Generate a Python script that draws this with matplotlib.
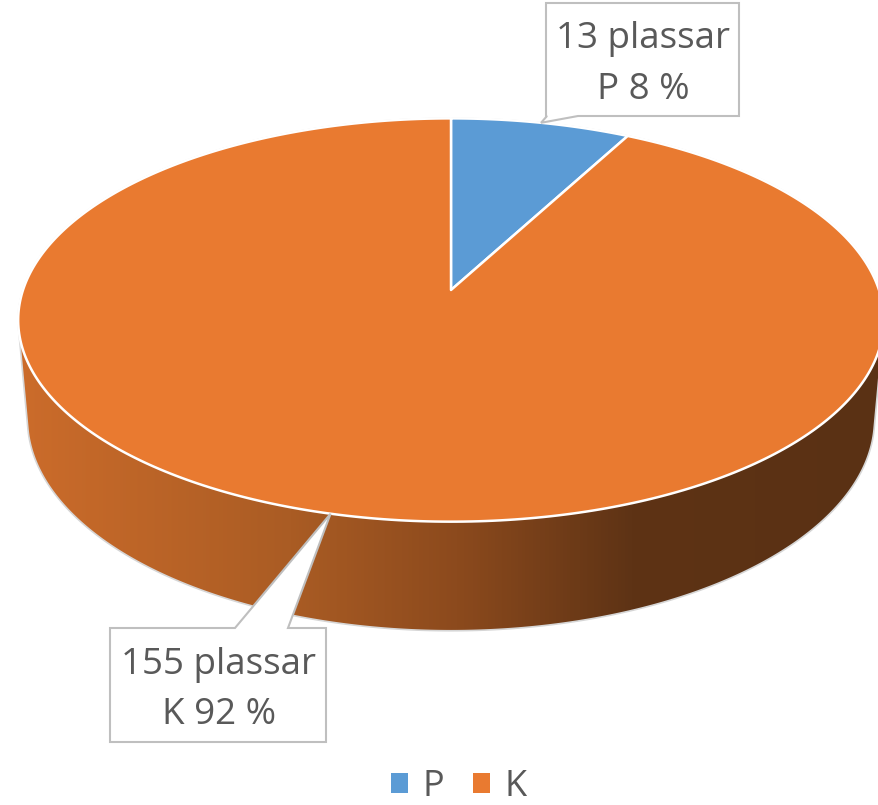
import numpy as np
import matplotlib.pyplot as plt
from matplotlib.colors import LinearSegmentedColormap
from matplotlib.patches import Polygon, Patch

plt.rcParams['font.family'] = ['Open Sans', 'DejaVu Sans']

labels = ['P', 'K']
counts = [13, 155]
colors = ['#5B9BD5', '#E97A30']
unit = 'plassar'

W, H = 879, 805
fig = plt.figure(figsize=(8.79, 8.05), dpi=100)
ax = fig.add_axes([0, 0, 1, 1])
ax.set_xlim(0, W)
ax.set_ylim(H, 0)
ax.axis('off')

# 3d pie seen from above with a bit of perspective
cx, cy, Sx, Sy = 451, 290, 428, 420
tilt = np.radians(28)
D = 5.93
h = 0.27


def proj(theta, z=0.0):
    x3 = np.sin(theta)
    y3 = np.cos(theta)
    v = -y3*np.sin(tilt) + z*np.cos(tilt)
    dist = D - y3*np.cos(tilt) - z*np.sin(tilt)
    return cx + Sx*x3*D/dist, cy - Sy*v*D/dist


def hull(pts):
    pts = sorted(set(pts))
    def half(seq):
        out = []
        for p in seq:
            while len(out) >= 2:
                (x1, y1), (x2, y2) = out[-2], out[-1]
                if (x2-x1)*(p[1]-y1) - (y2-y1)*(p[0]-x1) <= 0:
                    out.pop()
                else:
                    break
            out.append(p)
        return out
    lo = half(pts)
    hi = half(pts[::-1])
    return lo[:-1] + hi[:-1]


th = np.linspace(0, 2*np.pi, 721)
tx, ty = proj(th, 0)
bx, by = proj(th, -h)
pts = [(round(a, 3), round(b, 3)) for a, b in zip(np.r_[tx, bx], np.r_[ty, by])]
body = Polygon(hull(pts), closed=True, facecolor='none', edgecolor='#d6d6d6', lw=1.2, zorder=3)
ax.add_patch(body)

# side shading, light on the left, dark on the right
side_cmap = LinearSegmentedColormap.from_list('side', [
    (0.0, '#CE6D2B'), (0.33, '#AA5C24'), (0.52, '#8C4A1D'),
    (0.72, '#5E3315'), (1.0, '#5A3114')])
grad = np.linspace(0, 1, 512)[None, :]
img = ax.imshow(grad, extent=(0, W, H, 0), cmap=side_cmap, aspect='auto', zorder=1)
img.set_clip_path(body)

# top face slices, first slice starts at 12 o'clock and runs clockwise
total = sum(counts)
start = np.pi
apex = (cx, cy)
mids = []
for n, col in zip(counts, colors):
    span = 2*np.pi*n/total
    a = np.linspace(start, start - span, 400)
    px, py = proj(a, 0)
    poly = [apex] + list(zip(px, py))
    ax.add_patch(Polygon(poly, closed=True, facecolor=col, edgecolor='white',
                         lw=1.8, joinstyle='round', zorder=4))
    mids.append(start - span/2)
    start -= span

# callouts
boxes = [(546, 3, 739, 116), (110, 628, 326, 742)]
for lab, n, m, (x0, y0, x1, y1) in zip(labels, counts, mids, boxes):
    tip = tuple(float(t) for t in proj(m, 0))
    if tip[1] > y1:
        b0, b1 = 547, 578
        shape = [(x0, y0), (x1, y0), (x1, y1), (b1, y1), tip, (b0, y1), (x0, y1)]
    else:
        b0, b1 = 235, 288
        shape = [(x0, y0), (b0, y0), tip, (b1, y0), (x1, y0), (x1, y1), (x0, y1)]
    ax.add_patch(Polygon(shape, closed=True, facecolor='white', edgecolor='#bfbfbf',
                         lw=1.5, zorder=6))
    pct = round(100*n/total)
    ax.text((x0+x1)/2 + 1, (y0+y1)/2 + 5, f"{n} {unit}\n{lab} {pct} %", ha='center', va='center',
            fontsize=26.5, color='#595959', linespacing=1.55, zorder=7)

handles = [Patch(facecolor=c, edgecolor='none') for c in colors]
ax.legend(handles, labels, loc='lower center', bbox_to_anchor=(0.522, -0.04), ncol=2,
          frameon=False, fontsize=26, handlelength=0.47, handleheight=0.47,
          handletextpad=0.4, columnspacing=0.8, labelcolor='#595959')

fig.savefig('out.png', dpi=100)
